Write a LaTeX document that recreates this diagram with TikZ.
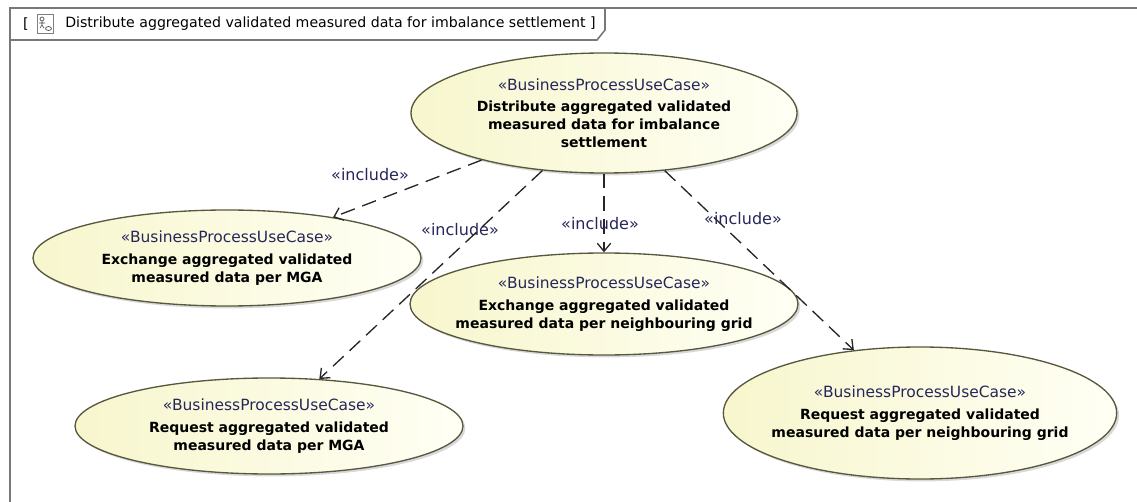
\documentclass[tikz,border=0pt]{standalone}
\usepackage{fontspec}
\setmainfont{DejaVu Sans}
\usetikzlibrary{shapes.geometric,arrows.meta,shadows}
\definecolor{ucfillA}{RGB}{247,246,205}
\definecolor{ucfillB}{RGB}{255,255,245}
\definecolor{ucline}{RGB}{88,88,62}
\definecolor{stereo}{RGB}{38,38,90}
\definecolor{framegray}{RGB}{120,120,120}
\tikzset{
  usecase/.style={ellipse, draw=ucline, line width=1pt, left color=ucfillA, right color=ucfillB,
    inner sep=0pt, drop shadow={shadow xshift=1.8pt, shadow yshift=-1.8pt, opacity=0.3}},
  uctext/.style={align=center, inner sep=0pt, font=\fontsize{10.5}{13.3}\selectfont\bfseries},
  include/.style={draw=black!85, line width=1pt, dash pattern=on 11pt off 6pt,
    -{Straight Barb[length=6pt,width=10pt]}},
  inclabel/.style={text=stereo, inner sep=0pt, font=\fontsize{12}{14}\selectfont}
}
\newcommand{\stereotype}[1]{{\fontsize{11.6}{13}\selectfont\mdseries\color{stereo}«#1»}}

\begin{document}
\begin{tikzpicture}[x=0.75pt, y=-0.75pt]
  \useasboundingbox (0,0) rectangle (1137,502);
  % frame and its name tab
  \draw[framegray, line width=1.2pt] (10,502) -- (10,8) -- (1137,8);
  \draw[framegray, line width=1.2pt] (10,40) -- (597,40) -- (605,30) -- (605,8);
  \node[font=\fontsize{10.6}{12}\selectfont] (lbr) at (26,24) {[};
  \draw[gray, line width=0.6pt] (37,14) rectangle (53,33);
  \draw[black!70, line width=0.5pt] (42,19) circle (2) (42,21) -- (42,25) (39,23) -- (45,23) (42,25) -- (40,28) (42,25) -- (44,28);
  \draw[black!70, line width=0.5pt] (48.5,28.5) ellipse (3 and 2);
  \node[anchor=west, font=\fontsize{10.6}{12}\selectfont, inner sep=0pt] (title) at (65,24)
    {Distribute aggregated validated measured data for imbalance settlement ]};

  % use cases
  \node[usecase, minimum width=289.5pt, minimum height=90pt] (top) at (604,113) {};
  \node[uctext] (topt) at (top) {\stereotype{BusinessProcessUseCase}\\[3pt]
    Distribute aggregated validated\\ measured data for imbalance\\ settlement};
  \node[usecase, minimum width=291pt, minimum height=72pt] (mga) at (227,258) {};
  \node[uctext] (mgat) at (mga) {\stereotype{BusinessProcessUseCase}\\[3pt]
    Exchange aggregated validated\\ measured data per MGA};
  \node[usecase, minimum width=291pt, minimum height=76.5pt] (grid) at (604,304) {};
  \node[uctext] (gridt) at (grid) {\stereotype{BusinessProcessUseCase}\\[3pt]
    Exchange aggregated validated\\ measured data per neighbouring grid};
  \node[usecase, minimum width=291pt, minimum height=72pt] (reqmga) at (269,426) {};
  \node[uctext] (reqmgat) at (reqmga) {\stereotype{BusinessProcessUseCase}\\[3pt]
    Request aggregated validated\\ measured data per MGA};
  \node[usecase, minimum width=295pt, minimum height=99pt] (reqgrid) at (920,413) {};
  \node[uctext] (reqgridt) at (reqgrid) {\stereotype{BusinessProcessUseCase}\\[3pt]
    Request aggregated validated\\ measured data per neighbouring grid};

  % include dependencies
  \draw[include] (top) -- (mga);
  \draw[include] (top) -- (reqmga);
  \draw[include] (top) -- (grid);
  \draw[include] (top) -- (reqgrid);
  \node[inclabel] (inc1) at (370,175) {«include»};
  \node[inclabel] (inc2) at (460,230) {«include»};
  \node[inclabel] (inc3) at (600,224) {«include»};
  \node[inclabel] (inc4) at (743,219) {«include»};
\end{tikzpicture}
\end{document}
